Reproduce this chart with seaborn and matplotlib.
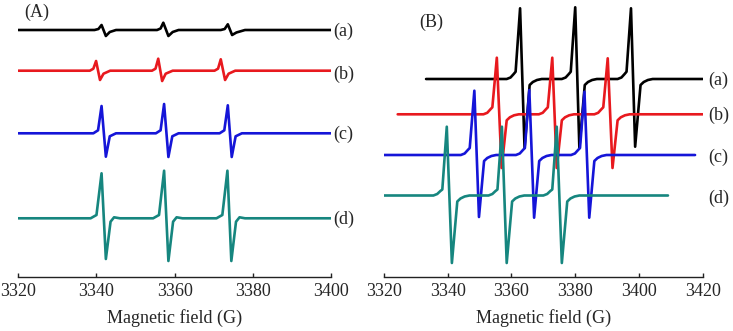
import numpy as np
import pandas as pd
import matplotlib
matplotlib.use("Agg")
import matplotlib.pyplot as plt
import seaborn as sns

sns.set_theme(style="white")
plt.rcParams['font.family'] = ['Liberation Serif', 'DejaVu Serif']

# ---------------- data ----------------
trace_names = ["(a)", "(b)", "(c)", "(d)"]
trace_colors = ["#000000", "#e8191e", "#1515d8", "#16867f"]

# Panel A: key points of each spectrum (field in G, intensity in arbitrary units)
A_a_field = [3320, 3339.5, 3340.5, 3341.3, 3342.4, 3343.4, 3345, 3355.5, 3356.4, 3357.1, 3358.4, 3359.5, 3361,
             3371.8, 3372.8, 3373.6, 3374.7, 3375.8, 3378, 3400]
A_a_int = [0, 0, 1, 5, -6, -2, 0, 0, 1.5, 7.3, -6, -2, 0, 0, 1, 5.7, -5, -2.5, 0, 0]

A_b_field = [3320, 3338.3, 3339.2, 3339.9, 3340.9, 3341.8, 3343.5, 3354.2, 3355.1, 3355.8, 3356.8, 3357.7, 3359.5,
             3370.2, 3371.1, 3371.8, 3372.9, 3373.8, 3375.5, 3400]
A_b_int = [0, 0, 2, 9.7, -9.3, -3, 0, 0, 2, 12, -10.3, -3, 0, 0, 2, 11.4, -9.3, -3, 0, 0]

A_c_field = [3320, 3339.2, 3340.4, 3341.3, 3342.4, 3343.4, 3345, 3355.2, 3356.4, 3357.3, 3358.4, 3359.4, 3361,
             3371.5, 3372.7, 3373.6, 3374.6, 3375.6, 3377.2, 3400]
A_c_int = [0, 0, 3, 27.3, -23.4, -3, 0, 0, 3, 29.3, -23.7, -3, 0, 0, 3, 28, -23.7, -3, 0, 0]

A_d_field = [3320, 3338.5, 3340.0, 3341.3, 3342.4, 3343.6, 3344.5, 3346,
             3354.5, 3356.0, 3357.3, 3358.4, 3359.6, 3360.5, 3362,
             3370.7, 3372.2, 3373.5, 3374.5, 3375.7, 3376.6, 3378, 3400]
A_d_int = [0, 0, 3.3, 45, -40.7, -3.4, 1, 0,
           0, 3.3, 47.6, -42.7, -3.4, 1, 0,
           0, 3.3, 47.6, -42.7, -3.4, 1, 0, 0]

# Panel B
B_a_field = [3333.2,
             3358.5, 3359.7, 3360.7, 3361.3, 3362.7, 3364.1, 3365.7, 3366.7, 3368, 3369.5,
             3375.8, 3377, 3378, 3378.6, 3380.0, 3381.3, 3383, 3384, 3385.3, 3386.8,
             3393.3, 3394.5, 3395.5, 3396.1, 3397.5, 3398.8, 3400.5, 3401.5, 3402.8, 3404.3,
             3420]
B_a_int = [0,
           0, 1.5, 5, 7.3, 70.7, -69, -6, -3, -1, 0,
           0, 1.5, 5, 7.3, 71.7, -69, -6, -3, -1, 0,
           0, 1.5, 5, 7.3, 70.7, -67.7, -6, -3, -1, 0,
           0]

B_b_field = [3324.3,
             3351.2, 3352.4, 3353.4, 3354.0, 3355.4, 3356.9, 3358.5, 3359.5, 3360.8, 3362.3,
             3368.6, 3369.8, 3370.8, 3371.4, 3372.8, 3374.2, 3375.8, 3376.8, 3378.1, 3379.6,
             3386.0, 3387.2, 3388.2, 3388.8, 3390.2, 3391.7, 3393.3, 3394.3, 3395.6, 3397.1,
             3420]
B_b_int = [0,
           0, 1.5, 5, 7, 56.6, -53.7, -6, -3, -1, 0,
           0, 1.5, 5, 7, 56.6, -53.7, -6, -3, -1, 0,
           0, 1.5, 5, 7, 56.0, -53.7, -6, -3, -1, 0,
           0]

B_c_field = [3320,
             3344.1, 3345.3, 3346.3, 3346.9, 3348.35, 3349.8, 3351.4, 3352.4, 3353.7, 3355.2,
             3361.4, 3362.6, 3363.6, 3364.2, 3365.6, 3367.1, 3368.7, 3369.7, 3371.0, 3372.5,
             3378.7, 3379.9, 3380.9, 3381.5, 3382.9, 3384.4, 3386.0, 3387.0, 3388.3, 3389.8,
             3417.6]
B_c_int = [0,
           0, 1.5, 5, 7, 64.3, -62, -6, -3, -1, 0,
           0, 1.5, 5, 7, 65.0, -62.7, -6, -3, -1, 0,
           0, 1.5, 5, 7, 63.3, -62.7, -6, -3, -1, 0,
           0]

B_d_field = [3320,
             3335.5, 3336.7, 3337.7, 3338.3, 3339.7, 3341.3, 3343.0, 3344.0, 3345.3, 3346.8,
             3352.8, 3354.0, 3355.0, 3355.6, 3357.0, 3358.5, 3360.2, 3361.2, 3362.5, 3364.0,
             3370.0, 3371.2, 3372.2, 3372.8, 3374.2, 3375.8, 3377.5, 3378.5, 3379.8, 3381.3,
             3409.1]
B_d_int = [0,
           0, 1.5, 4.5, 6, 68.8, -67.5, -6, -3, -1, 0,
           0, 1.5, 4.5, 6, 68.8, -67.5, -6, -3, -1, 0,
           0, 1.5, 4.5, 6, 68.8, -67.5, -6, -3, -1, 0,
           0]

A_ticks = [3320, 3340, 3360, 3380, 3400]
B_ticks = [3320, 3340, 3360, 3380, 3400, 3420]
x_label = "Magnetic field (G)"

# vertical stacking offsets (layout)
A_offsets = [-30, -70.7, -133.3, -218.3]
B_offsets = [-79, -114.3, -155, -195.5]
A_label_y = [-31.7, -74, -134, -219]
B_label_y = [-80, -115, -157.5, -198.5]

# ---------------- figure ----------------
W, H = 733, 331
fig = plt.figure(figsize=(W / 100, H / 100), dpi=100)

axis_y = 277.0
axA = fig.add_axes([18.3 / W, (H - axis_y) / H, (331 - 18.3) / W, axis_y / H])
axB = fig.add_axes([384 / W, (H - axis_y) / H, (702.7 - 384) / W, axis_y / H])


def draw(ax, fields, ints, offsets):
    for name, f, i, off, col in zip(trace_names, fields, ints, offsets, trace_colors):
        df = pd.DataFrame({"field": f, "signal": np.asarray(i) + off})
        sns.lineplot(data=df, x="field", y="signal", ax=ax, color=col, lw=1.9,
                     estimator=None, sort=False)


draw(axA, [A_a_field, A_b_field, A_c_field, A_d_field],
     [A_a_int, A_b_int, A_c_int, A_d_int], A_offsets)
draw(axB, [B_a_field, B_b_field, B_c_field, B_d_field],
     [B_a_int, B_b_int, B_c_int, B_d_int], B_offsets)

FS = 13
for ax, ticks, xlim in [(axA, A_ticks, (3320, 3400)), (axB, B_ticks, (3320, 3420))]:
    ax.set_xlim(*xlim)
    ax.set_ylim(-axis_y, 0)
    ax.set_xticks(ticks)
    ax.set_xticklabels([str(t) for t in ticks])
    ax.set_yticks([])
    ax.set_ylabel("")
    ax.set_xlabel(x_label, fontsize=FS, labelpad=7)
    for s in ["left", "right", "top"]:
        ax.spines[s].set_visible(False)
    ax.spines["bottom"].set_color("#222222")
    ax.spines["bottom"].set_linewidth(1.0)
    ax.tick_params(axis="x", direction="in", length=3, width=1.0, color="#222222",
                   labelsize=FS, pad=4, bottom=True)
    ax.patch.set_alpha(0)
    ax.grid(False)

for name, y in zip(trace_names, A_label_y):
    axA.text(3400.5, y, name, fontsize=FS, ha="left", va="center", clip_on=False)
for name, y in zip(trace_names, B_label_y):
    axB.text(3421.6, y, name, fontsize=FS, ha="left", va="center", clip_on=False)

fig.text(37 / W, 1 - 12.5 / H, "(A)", fontsize=FS, ha="center", va="center")
fig.text(431.5 / W, 1 - 22.5 / H, "(B)", fontsize=FS, ha="center", va="center")

fig.savefig("out.png", dpi=100)
